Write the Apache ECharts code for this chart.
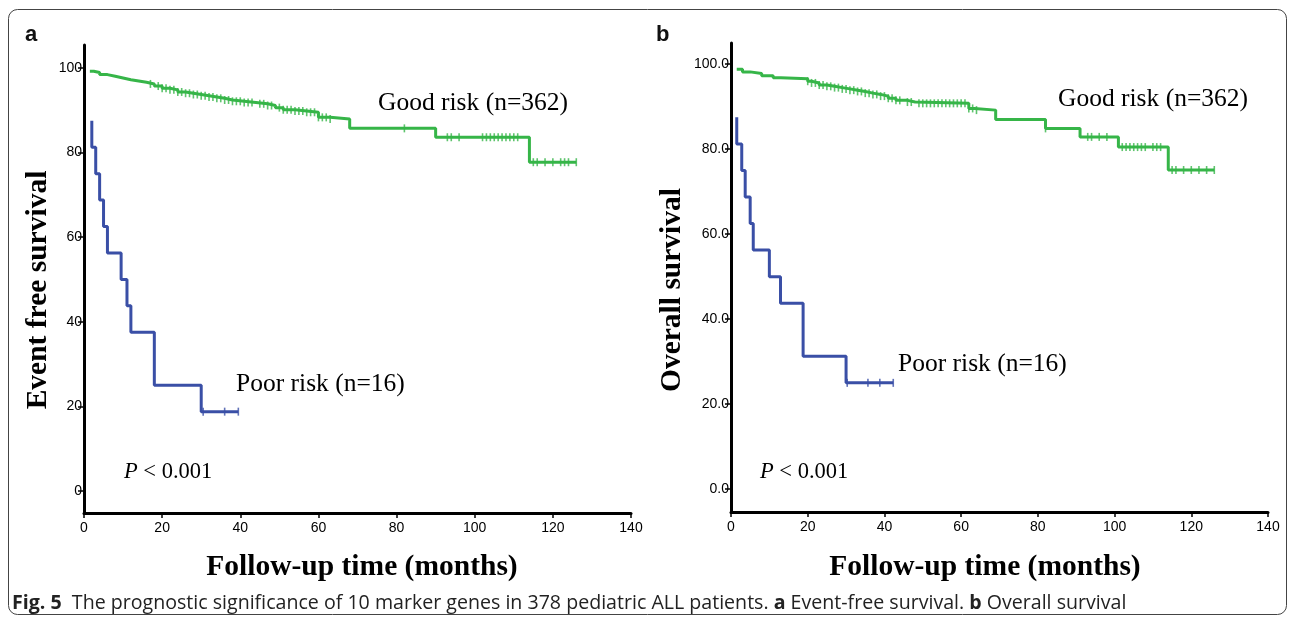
<!DOCTYPE html>
<html>
<head>
<meta charset="utf-8">
<script src="https://cdn.jsdelivr.net/npm/echarts@6/dist/echarts.min.js"></script>
<style>
  html, body { margin: 0; padding: 0; background: #fff; }
  #main { width: 1293px; height: 622px; }
</style>
</head>
<body>
<div id="main"></div>
<script>
// x ticks (months) and y ticks
var xTicks = [0, 20, 40, 60, 80, 100, 120, 140];
var yTicks = [0, 20, 40, 60, 80, 100];

// panel a: event free survival, [month, survival %]
var goodA = [[1.5, 99.2], [2.5, 98.9], [4, 98.4], [6, 98.0], [8, 97.6], [10, 97.2], [12, 96.9], [14, 96.6],
  [16, 96.2], [18, 95.7], [20, 95.2], [22, 94.8], [24, 94.3], [26, 94.0], [28, 93.7], [30, 93.4],
  [32, 93.1], [34, 92.8], [36, 92.4], [38, 92.1], [41, 91.8], [44, 91.5], [47, 91.1], [49, 90.6],
  [51, 90.1], [54, 89.8], [57, 89.5], [60, 88.3], [63, 87.9], [68, 85.7], [90, 83.6], [114, 77.7], [126, 77.7]];
var goodACensor = [17, 19, 20, 21, 22, 23, 24, 25, 26, 27, 28, 29, 30, 31, 32, 33, 34, 35, 36, 37, 38, 39, 40,
  41, 42, 43, 45, 46, 47, 48, 50, 51, 52, 53, 54, 55, 56, 57, 58, 59, 60, 61, 62, 63,
  82, 93, 94, 96, 102, 103, 104, 105, 106, 107, 108, 109, 110, 111, 115, 116, 118, 120, 122, 123, 124, 126];
var poorA = [[2, 87.5], [2, 81.25], [3, 75], [4, 68.75], [5, 62.5], [6, 56.25], [9.5, 50], [11, 43.75],
  [12, 37.5], [18, 25], [30, 18.75], [39.5, 18.75]];
var poorACensor = [30.5, 36, 39.5];

// panel b: overall survival
var goodB = [[1.5, 98.8], [3, 98.2], [5, 97.8], [8, 97.3], [11, 96.8], [13, 96.6], [20, 96.0], [21, 95.6],
  [23, 95.1], [25, 94.8], [27, 94.5], [29, 94.2], [31, 93.9], [33, 93.6], [35, 93.2], [37, 92.9],
  [39, 92.5], [41, 92.0], [43, 91.5], [46, 91.1], [48, 90.8], [62, 89.6], [63.5, 89.2], [69, 87.0],
  [82, 84.9], [91, 82.9], [101, 80.5], [114, 75.1], [126, 75.1]];
var goodBCensor = [20, 21, 22, 23, 24, 25, 26, 27, 28, 29, 30, 31, 32, 33, 34, 35, 36, 37, 38, 39, 40, 41, 42,
  43, 44, 46, 47, 49, 50, 51, 52, 53, 54, 55, 56, 57, 58, 59, 60, 61, 62, 63, 64,
  82, 93, 94, 96, 98, 102, 103, 104, 105, 106, 107, 108, 110, 111, 112, 115, 116, 118, 120, 122, 124, 126];
var poorB = [[1.5, 87.5], [1.5, 81.25], [2.8, 75], [3.7, 68.75], [5, 62.5], [5.8, 56.25], [10, 50],
  [12.9, 43.75], [18.8, 31.25], [30, 25], [42.3, 25]];
var poorBCensor = [30.3, 35.7, 38.8, 42.3];

var GREEN = '#36b548';
var BLUE = '#3a4fa6';

// survival value of a step curve at time t
function survAt(curve, t) {
  var s = curve[0][1];
  for (var i = 0; i < curve.length; i++) {
    if (curve[i][0] <= t) s = curve[i][1];
  }
  return s;
}
function censorPts(curve, times) {
  return times.map(function (t) { return [t, survAt(curve, t)]; });
}

var myChart = echarts.init(document.getElementById('main'));

function makeX(idx) {
  return {
    type: 'value', gridIndex: idx, min: 0, max: 140, interval: 20,
    axisLine: { show: true, onZero: false, lineStyle: { color: '#000', width: 3 } },
    axisTick: { show: true, length: 5, lineStyle: { color: '#000', width: 1.5 } },
    axisLabel: { color: '#000', fontSize: 14, fontFamily: 'Liberation Sans', margin: 8 },
    splitLine: { show: false }
  };
}
function makeY(idx, min, max, fmt) {
  return {
    type: 'value', gridIndex: idx, min: min, max: max,
    axisLine: { show: true, onZero: false, lineStyle: { color: '#000', width: 3 } },
    axisTick: { show: true, length: 6, customValues: yTicks, lineStyle: { color: '#000', width: 1.5 } },
    axisLabel: { color: '#000', fontSize: 14, fontFamily: 'Liberation Sans', margin: 2, customValues: yTicks,
      formatter: fmt },
    splitLine: { show: false }
  };
}
function stepLine(name, idx, data, color) {
  return {
    name: name, type: 'line', xAxisIndex: idx, yAxisIndex: idx, step: 'end',
    showSymbol: false, symbol: 'none', silent: true,
    lineStyle: { color: color, width: 3 }, data: data, z: 3
  };
}
function censorMarks(name, idx, data, color) {
  return {
    name: name, type: 'scatter', xAxisIndex: idx, yAxisIndex: idx, silent: true,
    symbol: 'rect', symbolSize: [1.6, 8], itemStyle: { color: color }, data: data, z: 4
  };
}

var serif = 'Liberation Serif';

option = {
  backgroundColor: '#fff',
  animation: false,
  grid: [
    { left: 84, top: 45, width: 547, height: 468 },
    { left: 731, top: 43, width: 537, height: 469 }
  ],
  xAxis: [makeX(0), makeX(1)],
  yAxis: [
    makeY(0, -5.2, 105.4, function (v) { return String(v); }),
    makeY(1, -5.4, 105, function (v) { return v.toFixed(1); })
  ],
  series: [
    stepLine('Good risk a', 0, goodA, GREEN),
    censorMarks('Good risk a censored', 0, censorPts(goodA, goodACensor), GREEN),
    stepLine('Poor risk a', 0, poorA, BLUE),
    censorMarks('Poor risk a censored', 0, censorPts(poorA, poorACensor), BLUE),
    stepLine('Good risk b', 1, goodB, GREEN),
    censorMarks('Good risk b censored', 1, censorPts(goodB, goodBCensor), GREEN),
    stepLine('Poor risk b', 1, poorB, BLUE),
    censorMarks('Poor risk b censored', 1, censorPts(poorB, poorBCensor), BLUE)
  ],
  graphic: [
    { type: 'rect', shape: { x: 8.5, y: 9.5, width: 1278, height: 605, r: 9 },
      style: { fill: 'none', stroke: '#444', lineWidth: 1 }, z: -1 },
    { type: 'text', x: 25, y: 35, style: { text: 'a', font: 'bold 22px "Liberation Sans"', fill: '#111', verticalAlign: 'middle' } },
    { type: 'text', x: 656, y: 35, style: { text: 'b', font: 'bold 22px "Liberation Sans"', fill: '#111', verticalAlign: 'middle' } },
    // y axis names
    { type: 'text', x: 38, y: 290, rotation: Math.PI / 2,
      style: { text: 'Event free survival', font: 'bold 29.5px "' + serif + '"', fill: '#000', align: 'center', verticalAlign: 'middle' } },
    { type: 'text', x: 672, y: 290, rotation: Math.PI / 2,
      style: { text: 'Overall survival', font: 'bold 29.5px "' + serif + '"', fill: '#000', align: 'center', verticalAlign: 'middle' } },
    // x axis names
    { type: 'text', x: 362, y: 567,
      style: { text: 'Follow-up time (months)', font: 'bold 29.5px "' + serif + '"', fill: '#000', align: 'center', verticalAlign: 'middle' } },
    { type: 'text', x: 985, y: 567,
      style: { text: 'Follow-up time (months)', font: 'bold 29.5px "' + serif + '"', fill: '#000', align: 'center', verticalAlign: 'middle' } },
    // group labels
    { type: 'text', x: 378, y: 103, style: { text: 'Good risk (n=362)', font: '25.5px "' + serif + '"', fill: '#000', verticalAlign: 'middle' } },
    { type: 'text', x: 236, y: 384, style: { text: 'Poor risk (n=16)', font: '25.5px "' + serif + '"', fill: '#000', verticalAlign: 'middle' } },
    { type: 'text', x: 1058, y: 99, style: { text: 'Good risk (n=362)', font: '25.5px "' + serif + '"', fill: '#000', verticalAlign: 'middle' } },
    { type: 'text', x: 898, y: 364, style: { text: 'Poor risk (n=16)', font: '25.5px "' + serif + '"', fill: '#000', verticalAlign: 'middle' } },
    // p values
    { type: 'text', x: 124, y: 472, style: { text: '{i|P} < 0.001', font: '22.5px "' + serif + '"', fill: '#000', verticalAlign: 'middle',
      rich: { i: { fontStyle: 'italic', fontSize: 22.5, fontFamily: serif } } } },
    { type: 'text', x: 760, y: 472, style: { text: '{i|P} < 0.001', font: '22.5px "' + serif + '"', fill: '#000', verticalAlign: 'middle',
      rich: { i: { fontStyle: 'italic', fontSize: 22.5, fontFamily: serif } } } },
    // caption
    { type: 'text', x: 12, y: 603,
      style: {
        text: '{b|Fig. 5}  The prognostic significance of 10 marker genes in 378 pediatric ALL patients. {b|a} Event-free survival. {b|b} Overall survival',
        font: '19.6px "Open Sans", sans-serif', fill: '#222', verticalAlign: 'middle',
        rich: { b: { fontWeight: 'bold', fontSize: 19.6, fontFamily: 'Open Sans' } }
      } }
  ]
};

myChart.setOption(option);
</script>
</body>
</html>
